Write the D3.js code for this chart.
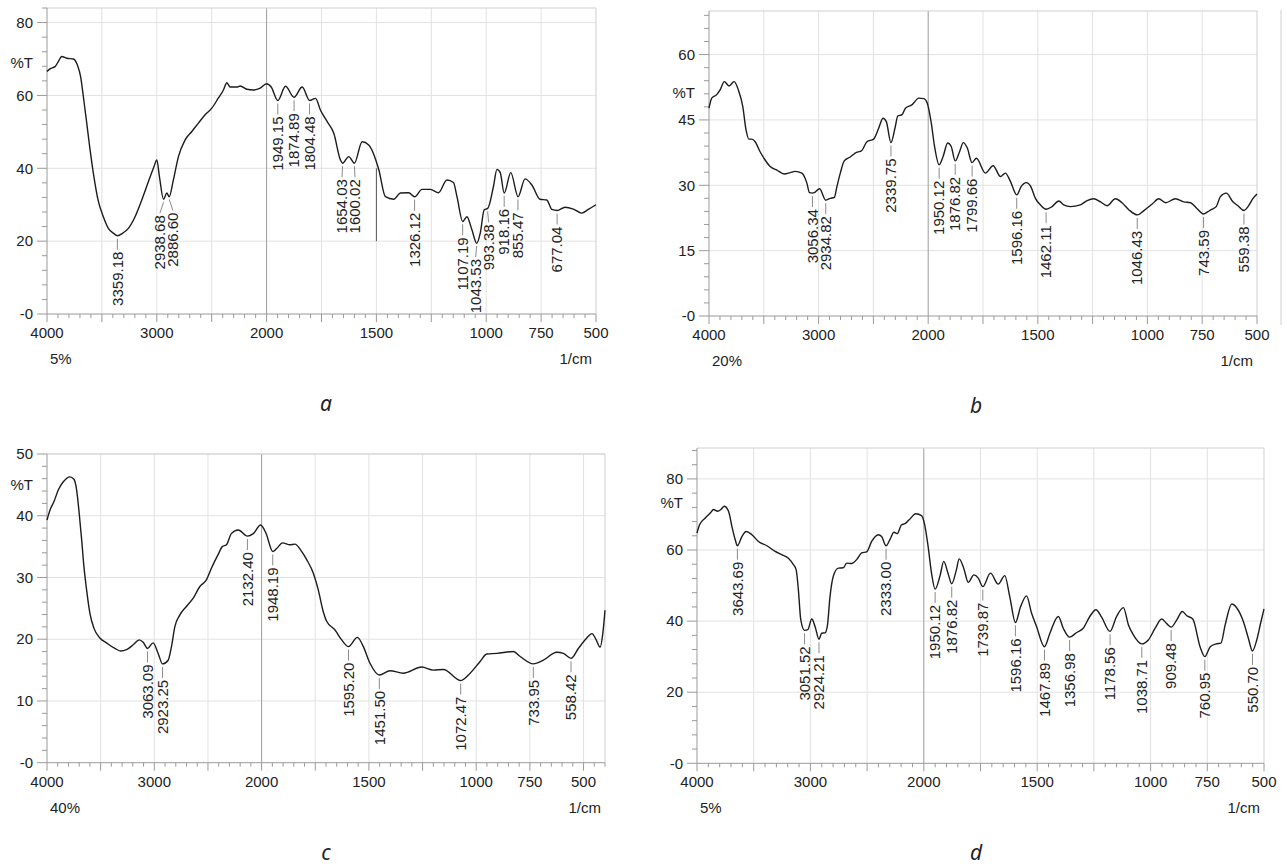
<!DOCTYPE html>
<html>
<head>
<meta charset="utf-8">
<script src="https://cdn.jsdelivr.net/npm/d3@7"></script>
<style>
  body { margin: 0; background: #fff; }
  svg text { font-family: "Liberation Sans", Arial, sans-serif; fill: #222; }
</style>
</head>
<body>
<svg id="chart" width="1287" height="868"></svg>
<script>
// spectra: [wavenumber 1/cm, %T]
const specA = [[4000,66.6],[3973,67.3],[3927,67.9],[3897,69.3],[3866,70.7],[3820,70.2],[3760,70.0],[3724,68.4],[3693,65.0],[3669,59.7],[3638,52.4],[3608,45.1],[3578,38.7],[3532,30.9],[3487,26.7],[3441,23.5],[3396,22.2],[3359,21.5],[3310,22.2],[3259,23.5],[3198,26.7],[3137,31.3],[3077,36.3],[3025,40.5],[3000,42.3],[2976,37.7],[2939,31.5],[2909,33.2],[2887,32.2],[2849,36.8],[2803,43.2],[2742,47.8],[2681,50.1],[2621,52.4],[2560,54.7],[2499,56.5],[2439,59.3],[2393,61.5],[2362,63.5],[2332,62.3],[2271,62.3],[2241,62.6],[2180,61.7],[2119,61.5],[2058,62.0],[2000,63.2],[1979,62.3],[1949,58.6],[1914,62.5],[1875,59.5],[1838,62.3],[1804,58.6],[1777,59.2],[1755,56.0],[1724,52.8],[1694,49.6],[1664,42.3],[1654,41.4],[1626,43.2],[1600,41.4],[1565,47.3],[1535,46.4],[1489,39.6],[1459,32.2],[1421,31.5],[1391,33.2],[1353,33.3],[1326,32.2],[1292,34.2],[1254,34.2],[1217,33.3],[1179,36.8],[1149,36.1],[1133,32.2],[1107,25.4],[1088,26.7],[1065,23.1],[1043,19.4],[1027,22.2],[1009,28.6],[993,29.0],[967,35.0],[951,39.7],[936,38.8],[918,33.2],[888,38.8],[855,32.2],[823,37.1],[792,35.4],[755,31.5],[724,31.3],[701,28.7],[677,28.4],[641,29.3],[603,28.8],[565,27.7],[535,28.7],[500,30.0]];

const specB = [[4000,47.7],[3975,50.0],[3930,50.8],[3899,51.9],[3860,53.8],[3817,52.8],[3771,53.8],[3732,51.9],[3692,48.1],[3662,42.7],[3637,40.6],[3610,40.6],[3579,40.0],[3534,37.7],[3488,35.8],[3442,34.3],[3381,33.5],[3314,32.6],[3259,32.9],[3214,33.2],[3153,32.8],[3107,30.5],[3083,28.3],[3056,28.2],[3040,28.3],[2991,29.2],[2935,26.6],[2894,27.0],[2857,27.2],[2833,29.7],[2802,32.8],[2766,35.6],[2711,36.5],[2666,37.4],[2605,38.0],[2559,40.0],[2498,40.6],[2452,43.1],[2412,45.4],[2382,44.6],[2340,39.8],[2300,43.5],[2278,45.9],[2238,46.2],[2208,47.7],[2146,48.5],[2086,50.0],[2040,49.9],[2009,48.9],[1986,44.3],[1971,38.9],[1950,34.7],[1932,36.6],[1911,39.7],[1895,38.9],[1877,35.6],[1857,37.7],[1840,39.8],[1822,38.6],[1800,35.2],[1780,36.2],[1739,32.8],[1704,34.5],[1670,32.0],[1648,32.8],[1625,30.9],[1596,27.8],[1576,29.7],[1552,30.6],[1533,29.8],[1511,27.0],[1488,25.5],[1462,24.5],[1435,25.1],[1404,26.4],[1382,25.5],[1351,25.1],[1306,25.5],[1275,26.5],[1245,26.9],[1214,26.2],[1184,25.3],[1146,26.9],[1116,26.0],[1085,24.4],[1046,23.2],[1016,24.2],[978,25.7],[948,26.9],[917,26.0],[872,26.9],[834,26.2],[803,26.0],[773,24.6],[744,23.4],[725,23.9],[709,24.4],[686,25.1],[667,27.4],[640,28.2],[610,26.2],[587,25.3],[559,24.2],[541,25.1],[518,27.0],[500,28.0]];

const specC = [[4000,39.3],[3970,41.0],[3935,42.3],[3894,44.2],[3848,45.5],[3786,46.3],[3749,45.9],[3724,44.2],[3700,40.4],[3677,36.1],[3656,31.8],[3631,28.0],[3600,24.2],[3563,21.8],[3507,20.2],[3445,19.4],[3367,18.5],[3314,18.1],[3259,18.3],[3197,19.1],[3141,19.9],[3104,19.5],[3063,18.5],[3011,19.4],[2964,17.7],[2923,16.0],[2871,16.6],[2840,18.8],[2809,22.0],[2763,23.9],[2701,25.3],[2639,26.6],[2577,28.5],[2515,29.6],[2468,31.5],[2406,33.7],[2366,35.0],[2328,35.3],[2282,37.1],[2218,37.7],[2132,36.7],[2078,37.1],[2009,38.5],[1980,37.2],[1948,34.2],[1930,34.7],[1902,35.6],[1868,35.3],[1845,35.4],[1813,34.2],[1790,32.9],[1759,30.7],[1736,28.0],[1713,24.5],[1697,22.9],[1658,21.5],[1627,19.9],[1595,18.8],[1554,20.3],[1526,18.8],[1495,16.1],[1451,14.2],[1402,14.9],[1340,14.5],[1254,15.5],[1200,15.0],[1153,15.1],[1072,13.3],[1028,14.5],[982,16.4],[951,17.6],[904,17.7],[827,18.0],[795,17.2],[734,16.0],[687,16.6],[625,17.9],[594,17.7],[558,16.9],[524,18.5],[485,20.2],[461,20.9],[441,19.9],[423,18.7],[410,21.0],[400,24.7]];

const specD = [[4000,64.8],[3977,67.1],[3927,69.0],[3883,70.4],[3854,71.4],[3819,70.9],[3789,71.4],[3760,72.3],[3722,70.9],[3692,66.6],[3663,62.9],[3644,61.2],[3604,63.8],[3566,65.2],[3516,64.3],[3458,62.4],[3384,61.2],[3311,59.6],[3253,58.7],[3194,57.7],[3150,55.9],[3126,54.5],[3106,48.8],[3085,40.4],[3052,37.4],[3023,37.6],[2988,40.6],[2959,38.5],[2924,34.9],[2901,36.6],[2871,36.7],[2851,38.5],[2827,46.9],[2798,52.6],[2754,54.9],[2710,55.0],[2680,56.3],[2636,56.2],[2592,57.3],[2548,59.2],[2504,59.5],[2460,62.4],[2401,64.3],[2372,63.8],[2333,61.2],[2299,62.9],[2264,65.0],[2235,64.6],[2196,67.1],[2167,67.4],[2129,68.5],[2070,70.2],[2020,69.7],[1996,67.1],[1981,61.0],[1966,53.5],[1950,49.0],[1929,52.6],[1912,56.8],[1893,53.4],[1877,50.5],[1856,54.5],[1844,57.5],[1824,54.9],[1804,50.9],[1779,53.0],[1760,52.1],[1740,49.7],[1706,53.5],[1672,50.4],[1643,52.8],[1621,46.9],[1596,39.6],[1573,44.1],[1547,47.1],[1525,42.3],[1503,38.5],[1468,32.8],[1444,36.6],[1407,41.3],[1385,38.0],[1357,35.5],[1326,36.8],[1297,38.0],[1268,41.3],[1241,43.2],[1216,41.1],[1179,37.1],[1150,41.3],[1120,43.8],[1098,39.0],[1076,36.1],[1039,33.6],[1010,34.7],[980,38.0],[951,40.6],[929,39.3],[909,38.3],[885,40.3],[860,42.7],[840,41.5],[814,40.6],[782,32.8],[761,30.0],[737,32.8],[711,33.6],[690,33.8],[671,39.0],[642,44.8],[620,43.7],[591,39.9],[569,35.2],[551,31.6],[532,34.7],[515,39.4],[500,43.4]];

// picked peaks
const peaksA = [3359.18, 2938.68, 2886.60, 1949.15, 1874.89, 1804.48, 1654.03, 1600.02, 1326.12, 1107.19, 1043.53, 993.38, 918.16, 855.47, 677.04];
const peaksB = [3056.34, 2934.82, 2339.75, 1950.12, 1876.82, 1799.66, 1596.16, 1462.11, 1046.43, 743.59, 559.38];
const peaksC = [3063.09, 2923.25, 2132.40, 1948.19, 1595.20, 1451.50, 1072.47, 733.95, 558.42];
const peaksD = [3643.69, 3051.52, 2924.21, 2333.00, 1950.12, 1876.82, 1739.87, 1596.16, 1467.89, 1356.98, 1178.56, 1038.71, 909.48, 760.95, 550.70];

// axis text
const xTickLabels = [4000, 3000, 2000, 1500, 1000, 750, 500];
const xGridValues = [3500, 3000, 2500, 2000, 1750, 1500, 1250, 1000, 750, 500];
const scaleNotes = ['5%', '20%', '40%', '5%'];
const captions = ['a', 'b', 'c', 'd'];

// layout of the four boxes (pixels)
const panels = [
  { data: specA, peaks: peaksA, yMax: 84,   yStep: 20, xEnd: 500, left: 47,  right: 596,  top: 8,   bottom: 314,   tY: 63,  capX: 326 },
  { data: specB, peaks: peaksB, yMax: 70,   yStep: 15, xEnd: 500, left: 709, right: 1257, top: 11,  bottom: 316,   tY: 93,  capX: 976 },
  { data: specC, peaks: peaksC, yMax: 50,   yStep: 10, xEnd: 400, left: 47,  right: 605,  top: 454, bottom: 762.7, tY: 485, capX: 326 },
  { data: specD, peaks: peaksD, yMax: 88.7, yStep: 20, xEnd: 500, left: 697, right: 1264, top: 448, bottom: 763.3, tY: 503, capX: 976 }
];

const svg = d3.select('#chart');
const fmt = d3.format('.2f');
const gridColor = '#e2e2e2';
const axisColor = '#9a9a9a';

let drawPanel = (p, i) => {
  // below 2000 1/cm the instrument doubles the scale
  let mid = p.left + (p.right - p.left) * 2000 / (2000 + 2 * (2000 - p.xEnd));
  let x = d3.scaleLinear().domain([4000, 2000, p.xEnd]).range([p.left, mid, p.right]);
  let y = d3.scaleLinear().domain([0, p.yMax]).range([p.bottom, p.top]);
  let g = svg.append('g');

  // grid
  let yMajor = d3.range(p.yStep, p.yMax + 0.01, p.yStep);
  g.selectAll('.hgrid').data(yMajor).enter().append('line')
    .attr('x1', p.left).attr('x2', p.right)
    .attr('y1', d => y(d)).attr('y2', d => y(d))
    .attr('stroke', gridColor);
  g.selectAll('.vgrid').data(xGridValues.filter(d => d > p.xEnd)).enter().append('line')
    .attr('x1', d => x(d)).attr('x2', d => x(d))
    .attr('y1', p.top).attr('y2', p.bottom)
    .attr('stroke', d => d === 2000 ? '#9c9c9c' : gridColor);

  // frame
  g.append('line').attr('x1', p.left).attr('x2', p.right).attr('y1', p.top).attr('y2', p.top).attr('stroke', '#cfcfcf');
  g.append('line').attr('x1', p.right).attr('x2', p.right).attr('y1', p.top).attr('y2', p.bottom).attr('stroke', '#cfcfcf');
  g.append('line').attr('x1', p.left).attr('x2', p.left).attr('y1', p.top).attr('y2', p.bottom).attr('stroke', axisColor);
  g.append('line').attr('x1', p.left).attr('x2', p.right).attr('y1', p.bottom).attr('y2', p.bottom).attr('stroke', axisColor);

  // y ticks
  let yMinor = d3.range(0, p.yMax + 0.01, p.yStep / 5);
  g.selectAll('.ytick').data(yMinor).enter().append('line')
    .attr('x1', (d, k) => k % 5 === 0 ? p.left - 10 : p.left - 5).attr('x2', p.left)
    .attr('y1', d => y(d)).attr('y2', d => y(d))
    .attr('stroke', axisColor);
  g.selectAll('.ylab').data([0].concat(yMajor)).enter().append('text')
    .attr('x', p.left - 14).attr('y', d => y(d)).attr('dy', '0.35em')
    .attr('text-anchor', 'end').style('font-size', '15px')
    .text(d => d === 0 ? '-0' : d);
  g.append('text').attr('x', p.left - 14).attr('y', p.tY).attr('dy', '0.35em')
    .attr('text-anchor', 'end').style('font-size', '15px').text('%T');

  // x ticks
  let xMinor = d3.range(4000, 2000, -100).concat(d3.range(2000, p.xEnd - 1, -50));
  g.selectAll('.xtick').data(xMinor).enter().append('line')
    .attr('x1', d => x(d)).attr('x2', d => x(d))
    .attr('y1', p.bottom)
    .attr('y2', d => (d === 4000 || xGridValues.includes(d)) ? p.bottom + 8 : p.bottom + 4)
    .attr('stroke', axisColor);
  g.selectAll('.xlab').data(xTickLabels).enter().append('text')
    .attr('x', d => x(d)).attr('y', p.bottom + 24)
    .attr('text-anchor', 'middle').style('font-size', '15px')
    .text(d => d);
  g.append('text').attr('x', p.left + 3).attr('y', p.bottom + 50)
    .style('font-size', '15px').text(scaleNotes[i]);
  g.append('text').attr('x', p.right - 4).attr('y', p.bottom + 50)
    .attr('text-anchor', 'end').style('font-size', '15px').text('1/cm');
  g.append('text').attr('x', p.capX).attr('y', p.bottom + 97)
    .attr('text-anchor', 'middle')
    .style('font-size', '21px').style('font-style', 'italic')
    .style('font-family', '"Noto Sans", sans-serif')
    .text(captions[i]);

  // spectrum
  let line = d3.line().x(d => x(d[0])).y(d => y(d[1])).curve(d3.curveMonotoneX);
  g.append('path').datum(p.data)
    .attr('d', line).attr('fill', 'none')
    .attr('stroke', '#1c1c1c').attr('stroke-width', 1.4).attr('stroke-linejoin', 'round');

  // peak labels
  let wn = p.data.map(d => d[0]).reverse();
  let tv = p.data.map(d => d[1]).reverse();
  let interp = w => {
    let k = d3.bisectLeft(wn, w);
    if (k <= 0) return tv[0];
    if (k >= wn.length) return tv[tv.length - 1];
    let t = (w - wn[k - 1]) / (wn[k] - wn[k - 1]);
    return tv[k - 1] + t * (tv[k] - tv[k - 1]);
  };
  let marks = p.peaks.map(w => {
    let px = x(w), py = y(interp(w));
    return { w: w, px: px, py: py, lx: px, top: py + 16 };
  });
  // spread labels that would overlap
  for (let it = 0; it < 20; it++) {
    for (let k = 1; k < marks.length; k++) {
      let gap = marks[k].lx - marks[k - 1].lx;
      if (gap < 13) {
        let s = (13 - gap) / 2;
        marks[k].lx += s;
        marks[k - 1].lx -= s;
      }
    }
  }
  g.selectAll('.lead').data(marks).enter().append('line')
    .attr('x1', d => d.px).attr('y1', d => d.py + 3)
    .attr('x2', d => d.lx).attr('y2', d => d.top - 2)
    .attr('stroke', '#8a8a8a');
  g.selectAll('.plab').data(marks).enter().append('text')
    .attr('transform', d => `translate(${d.lx},${d.top}) rotate(-90)`)
    .attr('dy', '0.35em').attr('text-anchor', 'end')
    .style('font-size', '15px')
    .text(d => fmt(d.w));

  return { x: x, y: y, g: g };
};

let drawn = panels.map(drawPanel);

// stray cursor line left in panel a at 1500 1/cm
drawn[0].g.append('line')
  .attr('x1', drawn[0].x(1500)).attr('x2', drawn[0].x(1500))
  .attr('y1', drawn[0].y(40)).attr('y2', drawn[0].y(20))
  .attr('stroke', '#555');

// edge of a neighbouring frame at the far right of panel b
svg.append('line').attr('x1', 1281).attr('x2', 1281).attr('y1', 10).attr('y2', 325).attr('stroke', '#cfcfcf');
</script>
</body>
</html>
